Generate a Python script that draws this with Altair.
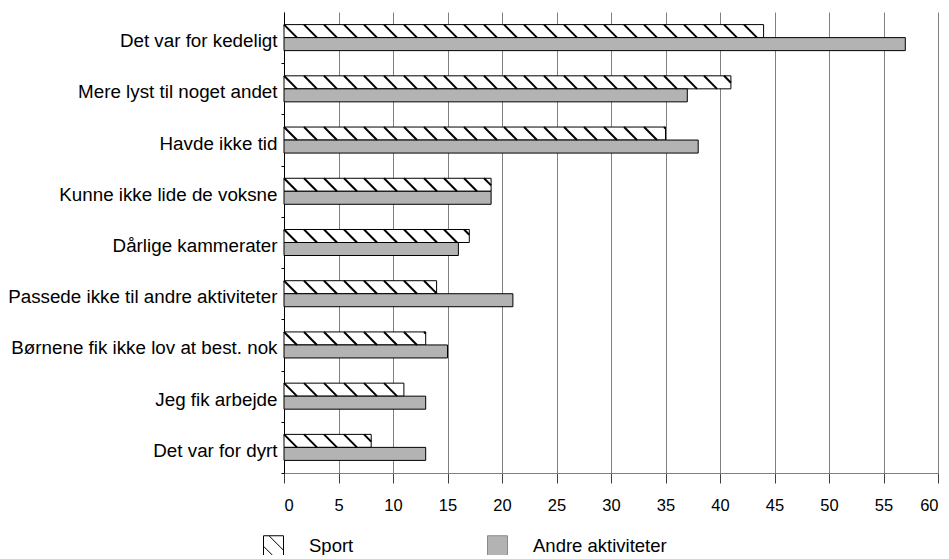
import json
import altair as alt
import pandas as pd

categories = [
    "Det var for kedeligt",
    "Mere lyst til noget andet",
    "Havde ikke tid",
    "Kunne ikke lide de voksne",
    "Dårlige kammerater",
    "Passede ikke til andre aktiviteter",
    "Børnene fik ikke lov at best. nok",
    "Jeg fik arbejde",
    "Det var for dyrt",
]
sport = [44, 41, 35, 19, 17, 14, 13, 11, 8]
andre = [57, 37, 38, 19, 16, 21, 15, 13, 13]
series_names = ["Sport", "Andre aktiviteter"]
x_ticks = list(range(0, 61, 5))

rows = []
for i, c in enumerate(categories):
    rows.append({"cat": c, "idx": i, "series": series_names[0], "value": sport[i]})
    rows.append({"cat": c, "idx": i, "series": series_names[1], "value": andre[i]})
df = pd.DataFrame(rows)
sport_df = pd.DataFrame({"idx": list(range(len(categories))), "value": sport})

FONT = "Liberation Sans"
FS_CAT = 18.8
FS_TICK = 16.5
FS_LEG = 18.5
STIPPLE = "#b3b3b3"
BAR = 0.254      # bar thickness as a fraction of the category band
HSTEP = 1.835    # hatch spacing (x units)
HW = 1.19        # hatch horizontal run (x units)

xscale = alt.Scale(domain=[0, 60], nice=False, zero=True)
yscale = alt.Scale(domain=[-0.5, 8.5], reverse=True, nice=False, zero=False)

label_expr = json.dumps(categories, ensure_ascii=False) + "[datum.value]"

x_axis = alt.Axis(
    values=x_ticks, title=None, grid=True, gridColor="#808080", gridWidth=1,
    domainColor="#808080", tickColor="#404040", tickSize=10, labelFontSize=FS_TICK,
    labelFont=FONT, labelColor="black", labelPadding=14, format="d")
y_axis = alt.Axis(
    values=list(range(len(categories))), labelExpr=label_expr, title=None,
    grid=False, domainColor="black", tickColor="black", tickSize=3,
    tickOffset=25.6, labelOffset=-22.6, labelFontSize=FS_CAT, labelFont=FONT,
    labelColor="black", labelPadding=4, labelLimit=400)

bars = alt.Chart(df).transform_calculate(
    zero="0",
    y0=f"datum.series == 'Sport' ? datum.idx - {BAR} : datum.idx",
    y1=f"datum.series == 'Sport' ? datum.idx : datum.idx + {BAR}",
).mark_rect(stroke="black", strokeWidth=1).encode(
    x=alt.X("zero:Q", scale=xscale, axis=x_axis),
    x2="value:Q",
    y=alt.Y("y0:Q", scale=yscale, axis=y_axis),
    y2="y1:Q",
    fill=alt.condition("datum.series == 'Sport'", alt.value("white"), alt.value(STIPPLE)),
)

hatch = alt.Chart(sport_df).transform_calculate(
    h=f"sequence(0, datum.value, {HSTEP})"
).transform_flatten(["h"]).transform_calculate(
    hx2=f"min(datum.h + {HW}, datum.value)",
    hy1=f"datum.idx - {BAR}",
    hy2=f"datum.idx - {BAR} + {BAR} * (min(datum.h + {HW}, datum.value) - datum.h) / {HW}",
).mark_rule(color="black", strokeWidth=2).encode(
    x=alt.X("h:Q", scale=xscale, axis=x_axis),
    x2="hx2:Q",
    y=alt.Y("hy1:Q", scale=yscale, axis=y_axis),
    y2="hy2:Q",
)

sport_path = "M-1,-1H1V1H-1Z M-0.45,-1L1,0.45 M-1,0.05L-0.05,1"
leg = alt.Legend(
    title=None, orient="none", legendX=-21, legendY=523, direction="horizontal",
    symbolSize=400, symbolStrokeWidth=1, symbolOpacity=1, labelFontSize=FS_LEG,
    labelFont=FONT, labelColor="black", labelOffset=25, columnPadding=131,
)
legend_layer = alt.Chart(df).mark_point(opacity=0).encode(
    x=alt.X("value:Q", scale=xscale, axis=x_axis),
    y=alt.Y("idx:Q", scale=yscale, axis=y_axis),
    shape=alt.Shape("series:N", scale=alt.Scale(domain=series_names, range=[sport_path, "square"]), legend=leg),
    fill=alt.Fill("series:N", scale=alt.Scale(domain=series_names, range=["white", STIPPLE]), legend=leg),
    stroke=alt.Stroke("series:N", scale=alt.Scale(domain=series_names, range=["black", "#8a8a8a"]), legend=leg),
)

chart = alt.layer(bars, hatch, legend_layer).properties(
    width=654, height=461,
    autosize=alt.AutoSizeParams(type="none"),
    padding={"left": 276, "top": 4, "right": 3, "bottom": 82},
    background="white",
).configure_view(stroke=None)

chart.save("out.html", embed_options={"renderer": "svg", "actions": False})
